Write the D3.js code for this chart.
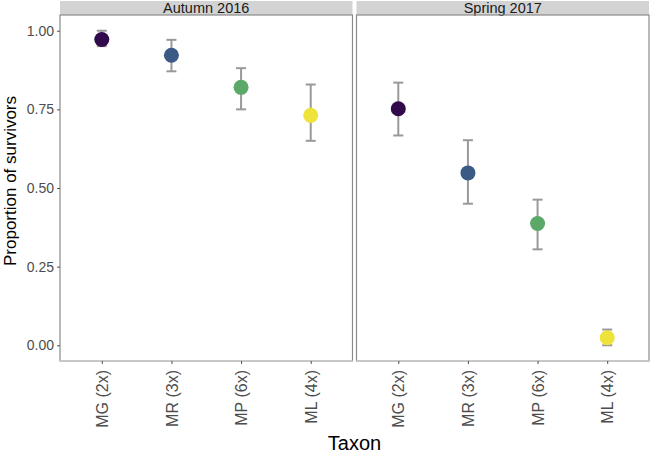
<!DOCTYPE html>
<html>
<head>
<meta charset="utf-8">
<script src="https://cdn.jsdelivr.net/npm/d3@7"></script>
<style>
  body { margin: 0; background: #fff; }
  text { font-family: "Liberation Sans", Arial, sans-serif; }
</style>
</head>
<body>
<div id="canvas"></div>
<script>
// data
const taxa = ["MG (2x)", "MR (3x)", "MP (6x)", "ML (4x)"];
const seasons = ["Autumn 2016", "Spring 2017"];
const colors = ["#300a4a", "#3b5a86", "#5ba868", "#eee33a"];
const autumnMean = [0.972, 0.922, 0.820, 0.731];
const autumnLow = [0.951, 0.871, 0.750, 0.650];
const autumnHigh = [1.000, 0.971, 0.881, 0.829];
const springMean = [0.752, 0.548, 0.387, 0.024];
const springLow = [0.667, 0.450, 0.305, 0.000];
const springHigh = [0.835, 0.652, 0.463, 0.050];
const yTicks = [0, 0.25, 0.5, 0.75, 1];

const width = 650, height = 458;
const panelTop = 15, panelBottom = 361, stripTop = 1;
const panels = [
  { name: seasons[0], x0: 60, x1: 352.5, mean: autumnMean, low: autumnLow, high: autumnHigh },
  { name: seasons[1], x0: 356.5, x1: 649, mean: springMean, low: springLow, high: springHigh },
];

const svg = d3.select("#canvas")
  .append("svg")
  .attr("width", width)
  .attr("height", height);

const y = d3.scaleLinear().domain([-0.05, 1.05]).range([panelBottom, panelTop]);

panels.forEach(function (p) {
  const x = d3.scalePoint().domain(taxa).range([p.x0, p.x1]).padding(0.6);
  const g = svg.append("g");

  // strip
  g.append("rect")
    .attr("x", p.x0).attr("y", stripTop)
    .attr("width", p.x1 - p.x0).attr("height", panelTop - stripTop)
    .attr("fill", "#d3d3d3");
  g.append("text")
    .attr("x", (p.x0 + p.x1) / 2).attr("y", panelTop - 2)
    .attr("text-anchor", "middle")
    .attr("font-size", 14.5)
    .attr("fill", "#1a1a1a")
    .text(p.name);

  // panel border
  g.append("rect")
    .attr("x", p.x0).attr("y", panelTop)
    .attr("width", p.x1 - p.x0).attr("height", panelBottom - panelTop)
    .attr("fill", "none")
    .attr("stroke", "#8a8a8a")
    .attr("stroke-width", 1.2);
  g.append("line")
    .attr("x1", p.x0).attr("x2", p.x1)
    .attr("y1", panelBottom).attr("y2", panelBottom)
    .attr("stroke", "#c8c8c8")
    .attr("stroke-width", 2);

  // x axis
  const xAxis = g.append("g")
    .attr("transform", "translate(0," + panelBottom + ")")
    .call(d3.axisBottom(x).tickSize(3).tickPadding(4));
  xAxis.select(".domain").remove();
  xAxis.selectAll(".tick line").attr("stroke", "#4d4d4d");
  xAxis.selectAll(".tick text")
    .attr("transform", "rotate(-90)")
    .attr("text-anchor", "end")
    .attr("x", -9).attr("y", 0).attr("dy", "0.35em")
    .attr("font-size", 16)
    .attr("font-family", "Liberation Sans, Arial, sans-serif")
    .attr("fill", "#4d4d4d");

  // error bars
  const cap = 5;
  const bars = g.selectAll(".err").data(taxa).enter().append("g").attr("class", "err")
    .attr("stroke", "#999999").attr("stroke-width", 2);
  bars.append("line")
    .attr("x1", d => x(d)).attr("x2", d => x(d))
    .attr("y1", (d, i) => y(p.low[i])).attr("y2", (d, i) => y(p.high[i]));
  bars.append("line")
    .attr("x1", d => x(d) - cap).attr("x2", d => x(d) + cap)
    .attr("y1", (d, i) => y(p.low[i])).attr("y2", (d, i) => y(p.low[i]));
  bars.append("line")
    .attr("x1", d => x(d) - cap).attr("x2", d => x(d) + cap)
    .attr("y1", (d, i) => y(p.high[i])).attr("y2", (d, i) => y(p.high[i]));

  // points
  g.selectAll("circle").data(taxa).enter().append("circle")
    .attr("cx", d => x(d))
    .attr("cy", (d, i) => y(p.mean[i]))
    .attr("r", 7.5)
    .attr("fill", (d, i) => colors[i]);
});

// y axis on first panel
const yAxis = svg.append("g")
  .attr("transform", "translate(" + panels[0].x0 + ",0)")
  .call(d3.axisLeft(y).tickValues(yTicks).tickFormat(d3.format(".2f")).tickSize(3).tickPadding(3));
yAxis.select(".domain").remove();
yAxis.selectAll(".tick line").attr("stroke", "#4d4d4d");
yAxis.selectAll(".tick text")
  .attr("font-size", 14)
  .attr("font-family", "Liberation Sans, Arial, sans-serif")
  .attr("fill", "#4d4d4d");

// axis titles
svg.append("text")
  .attr("transform", "translate(16," + ((stripTop + panelBottom) / 2) + ") rotate(-90)")
  .attr("text-anchor", "middle")
  .attr("font-size", 17)
  .attr("fill", "#000")
  .text("Proportion of survivors");

svg.append("text")
  .attr("x", (panels[0].x0 + panels[1].x1) / 2)
  .attr("y", 450)
  .attr("text-anchor", "middle")
  .attr("font-size", 20)
  .attr("fill", "#000")
  .text("Taxon");
</script>
</body>
</html>
